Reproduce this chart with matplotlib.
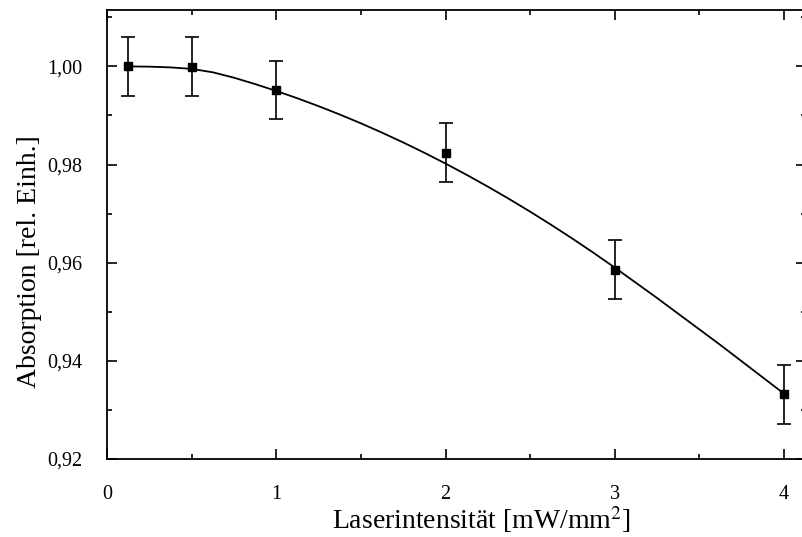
import numpy as np
import matplotlib
matplotlib.use("Agg")
import matplotlib.pyplot as plt
from matplotlib.ticker import MultipleLocator, FuncFormatter

# measured points
intensity = [0.125, 0.5, 1.0, 2.0, 3.0, 4.0]
absorption = [1.0000, 0.9999, 0.9952, 0.9824, 0.9586, 0.9332]
abs_err = [0.006, 0.006, 0.006, 0.006, 0.006, 0.006]

# fit curve
fit_x = [0.125, 0.25, 0.375, 0.5, 0.625, 0.75, 0.875, 1.0, 1.125, 1.25,
         1.375, 1.5, 1.625, 1.75, 1.875, 2.0, 2.125, 2.25, 2.375, 2.5,
         2.625, 2.75, 2.875, 3.0, 3.125, 3.25, 3.375, 3.5, 3.625, 3.75,
         3.875, 4.0]
fit_y = [1.0000, 0.99995, 0.9998, 0.9995, 0.9988, 0.9977, 0.9964, 0.9950,
         0.9935, 0.9919, 0.9902, 0.9884, 0.9865, 0.9845, 0.9824, 0.9802,
         0.9779, 0.9755, 0.9730, 0.9704, 0.9677, 0.9649, 0.9620, 0.9590,
         0.9559, 0.9528, 0.9496, 0.9464, 0.9432, 0.9399, 0.9366, 0.9333]

plt.rcParams['font.family'] = ['Liberation Serif', 'DejaVu Serif']
plt.rcParams['mathtext.fontset'] = 'stix'

fig = plt.figure(figsize=(8.03, 5.37), dpi=100)
ax = fig.add_axes([0.1333, 0.1453, 0.8705, 0.8361])

ax.plot(fit_x, fit_y, color='black', lw=1.3)
ax.errorbar(intensity, absorption, yerr=abs_err, fmt='s', color='black',
            ms=5.5, elinewidth=1.2, capsize=4.8, capthick=1.2)

ax.set_xlim(0, 4.130)
ax.set_ylim(0.92, 1.0115)
ax.xaxis.set_major_locator(MultipleLocator(1))
ax.xaxis.set_minor_locator(MultipleLocator(0.5))
ax.yaxis.set_major_locator(MultipleLocator(0.02))
ax.yaxis.set_minor_locator(MultipleLocator(0.01))
ax.yaxis.set_major_formatter(FuncFormatter(lambda v, p: f"{v:.2f}".replace('.', ',')))

ax.tick_params(which='both', direction='in', top=True, right=True, width=1.2,
               labelsize=14.5)
ax.tick_params(which='major', length=7)
ax.tick_params(which='minor', length=3.5)
ax.tick_params(axis='x', pad=19)
ax.tick_params(axis='y', pad=18)
for s in ax.spines.values():
    s.set_linewidth(1.3)

# axis titles placed by hand, like in the original
fig.text(481 / 803, 1 - 529 / 537, 'Laserintensität [mW/mm$^2$]', fontsize=20,
         ha='center', va='baseline')
fig.text(30 / 803, 1 - 262 / 537, 'Absorption [rel. Einh.]', fontsize=20,
         ha='center', va='center', rotation=90)

fig.savefig('out.png', dpi=100)
